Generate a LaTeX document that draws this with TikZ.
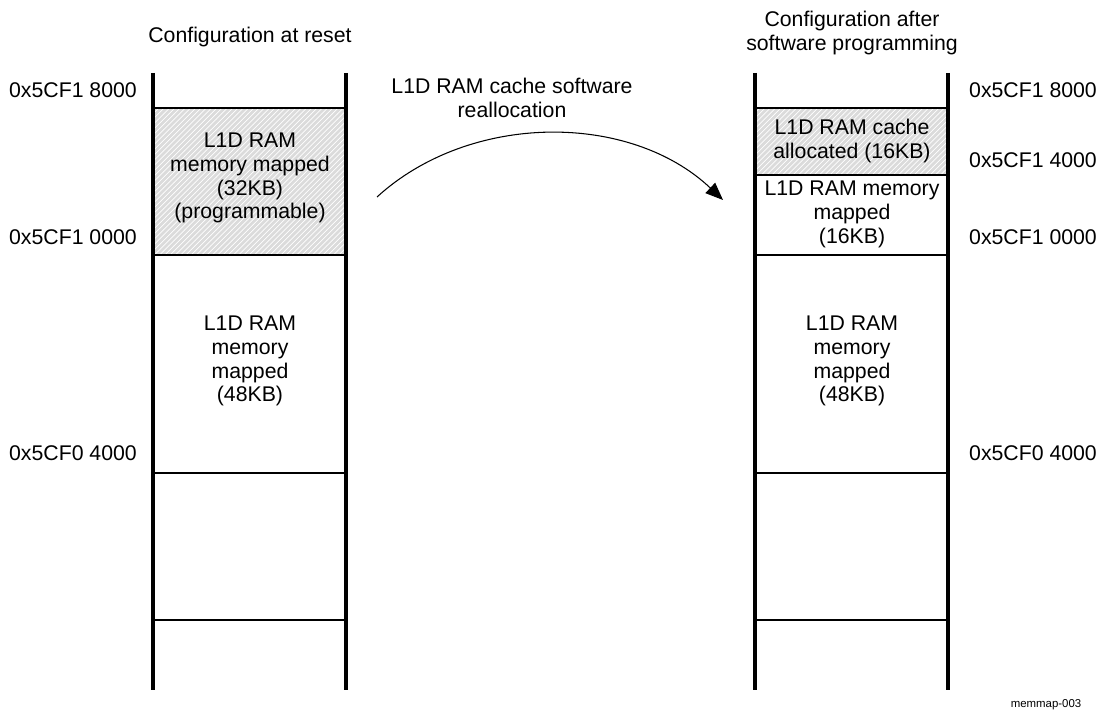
\documentclass[tikz,border=0pt]{standalone}
\usepackage{fontspec}
\setmainfont{Liberation Sans}
\usepackage{tikz}
\usetikzlibrary{calc,arrows.meta,positioning,patterns}

\tikzset{
  txt/.style={align=center, font=\fontsize{12.1}{13.6}\selectfont},
  addr/.style={font=\fontsize{12.1}{13.6}\selectfont},
  rail/.style={line width=2.2pt},
  sep/.style={line width=0.9pt},
  hatched/.style={fill=gray!28, postaction={pattern=north east lines, pattern color=white}}
}

\begin{document}
\begin{tikzpicture}[x=0.02cm,y=-0.02cm]
    \useasboundingbox (0,0) rectangle (1096,715);

    % titles
    \node[txt] (resettitle) at (250,37) {Configuration at reset};
    \node[txt] (progtitle) at (852,33) {Configuration after\\software programming};

    % left column
    \fill[hatched] (153,108) rectangle (346,255);
    \draw[sep] (153,108) -- (346,108);
    \draw[sep] (153,255) -- (346,255);
    \draw[sep] (153,473) -- (346,473);
    \draw[sep] (153,620) -- (346,620);
    \draw[rail] (153,73) -- (153,690);
    \draw[rail] (346,73) -- (346,690);
    \node[txt] (lmapped) at (250,178) {L1D RAM\\memory mapped\\(32KB)\\(programmable)};
    \node[txt] (lfixed) at (250,361) {L1D RAM\\memory\\mapped\\(48KB)};
    \node[addr, anchor=east] (la) at (143,90) {0x5CF1 8000};
    \node[addr, anchor=east] (lb) at (143,237) {0x5CF1 0000};
    \node[addr, anchor=east] (lc) at (143,453) {0x5CF0 4000};

    % right column
    \fill[hatched] (755,108) rectangle (948,175);
    \draw[sep] (755,108) -- (948,108);
    \draw[sep] (755,175) -- (948,175);
    \draw[sep] (755,255) -- (948,255);
    \draw[sep] (755,473) -- (948,473);
    \draw[sep] (755,620) -- (948,620);
    \draw[rail] (755,73) -- (755,690);
    \draw[rail] (948,73) -- (948,690);
    \node[txt] (rcache) at (852,141) {L1D RAM cache\\allocated (16KB)};
    \node[txt] (rmapped) at (852,214) {L1D RAM memory\\mapped\\(16KB)};
    \node[txt] (rfixed) at (852,361) {L1D RAM\\memory\\mapped\\(48KB)};
    \node[addr, anchor=west] (ra) at (963,90) {0x5CF1 8000};
    \node[addr, anchor=west] (rb) at (963,160) {0x5CF1 4000};
    \node[addr, anchor=west] (rc) at (963,237) {0x5CF1 0000};
    \node[addr, anchor=west] (rd) at (963,453) {0x5CF0 4000};

    % reallocation arrow
    \node[txt] (realloc) at (512,98) {L1D RAM cache software\\reallocation};
    \coordinate (from) at (377,197);
    \coordinate (to) at (723,200);
    \draw[line width=0.6pt, -{Triangle[length=10pt,width=8pt]}]
        (from) .. controls (470,112) and (630,112) .. (to);

    \node[font=\fontsize{6.5}{8}\selectfont] (tag) at (1046,705) {memmap-003};
\end{tikzpicture}
\end{document}
